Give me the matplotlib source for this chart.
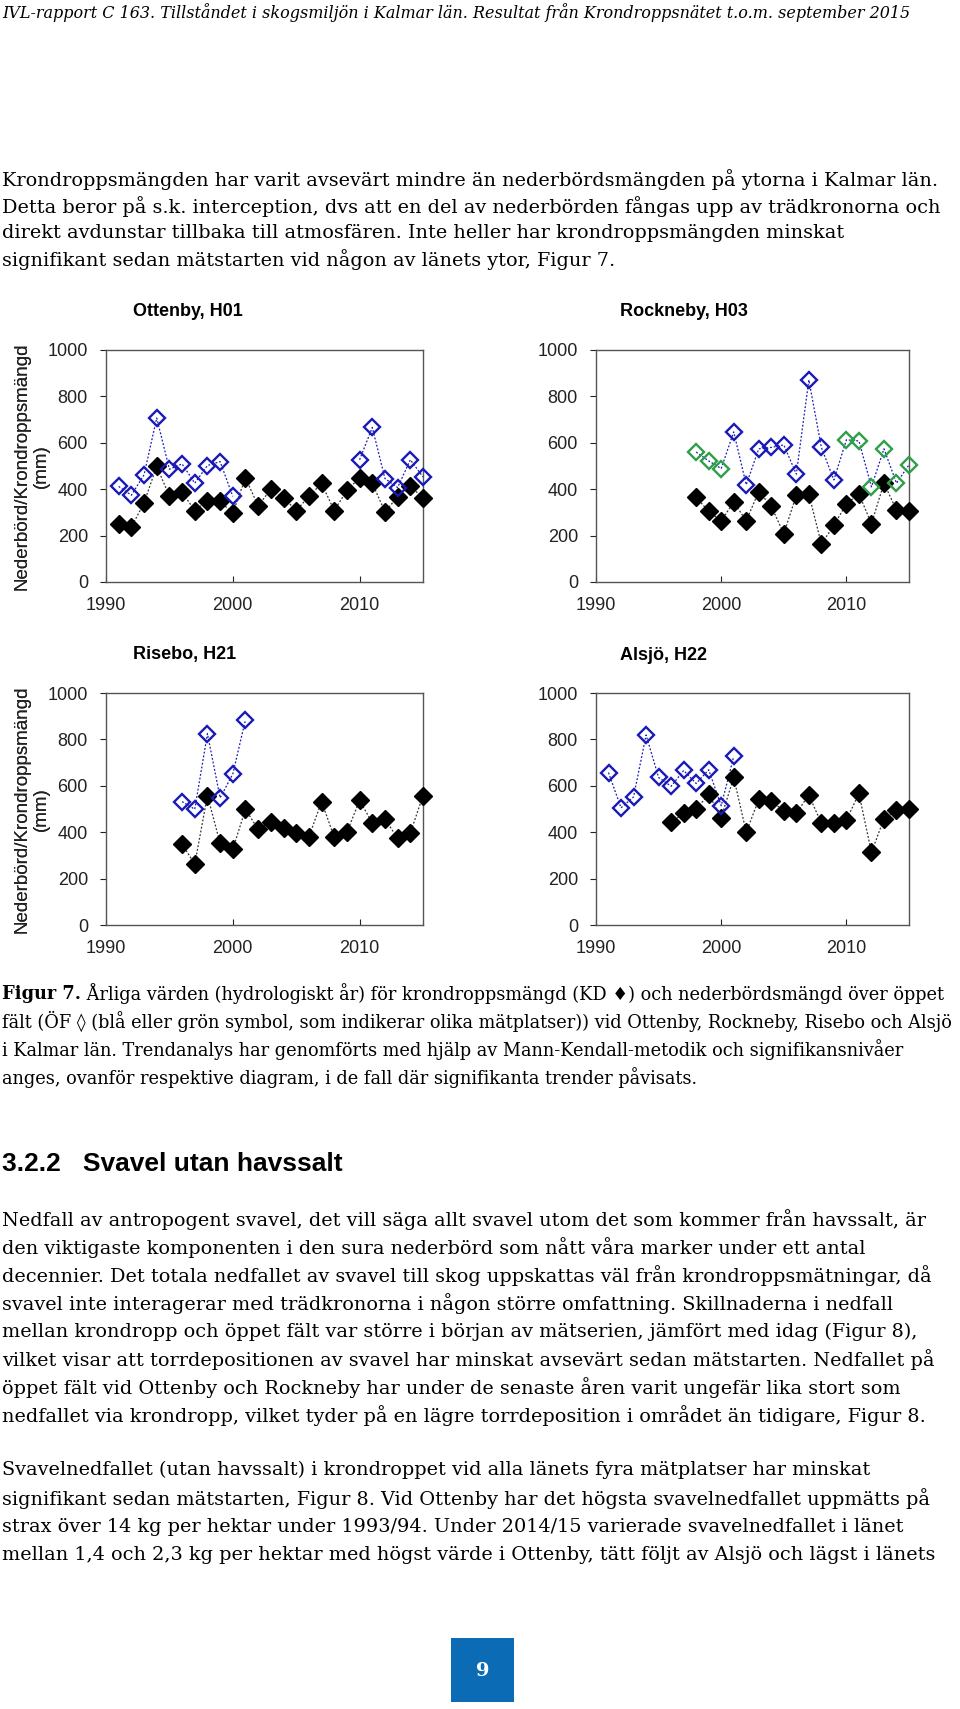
import numpy as np
import matplotlib
matplotlib.use("Agg")
import matplotlib.pyplot as plt
import matplotlib.patches as mpatches

W, H = 960, 1709
nan = np.nan

# Ottenby, H01
ott_years = list(range(1991, 2016))
ott_kd = [250, 237, 340, 500, 369, 387, 308, 351, 347, 297, 449, 328, 400, 364, 308,
          369, 425, 308, 395, 449, 426, 303, 367, 412, 363]
ott_of = [412, 374, 462, 707, 486, 509, 426, 502, 519, 369, nan, nan, nan, nan, nan,
          nan, nan, nan, nan, 527, 666, 446, 407, 527, 453]

# Rockneby, H03 (g = green site, b = blue site)
rock_years = list(range(1998, 2016))
rock_kd = [366, 304, 264, 344, 264, 390, 326, 208, 374, 379, 164, 244, 337, 380, 251, 426, 310, 304]
rock_of = [560, 522, 489, 647, 419, 574, 580, 591, 465, 871, 580, 440, 613, 608, 410, 574, 426, 505]
rock_site = ['g', 'g', 'g', 'b', 'b', 'b', 'b', 'b', 'b', 'b', 'b', 'b', 'g', 'g', 'g', 'g', 'g', 'g']

# Risebo, H21
ris_years = list(range(1996, 2016))
ris_kd = [349, 262, 558, 352, 327, 499, 412, 445, 416, 397, 379, 532, 379, 400, 537, 440, 456, 374, 397, 557]
ris_of = [532, 499, 825, 548, 651, 885] + [nan] * 14

# Alsjö, H22
als_years = list(range(1991, 2016))
als_kd = [nan] * 5 + [442, 481, 498, 564, 463, 636, 400, 541, 535, 491, 482, 561, 438, 440,
                      452, 567, 313, 458, 496, 499]
als_of = [657, 505, 552, 819, 636, 598, 666, 610, 669, 514, 727] + [nan] * 14

xticks = [1990, 2000, 2010]
yticks = [0, 200, 400, 600, 800, 1000]

BLUE = '#1a1ab8'
GREEN = '#2e9e4a'
SERIF = ['DejaVu Serif', 'DejaVu Sans']
SANS = ['Liberation Sans', 'DejaVu Sans']

fig = plt.figure(figsize=(W / 100, H / 100), dpi=100)


def txt(x, y, s, **kw):
    return fig.text(x / W, 1 - y / H, s, **kw)


def panel(box, title, title_xy, years, kd, of, site=None):
    l, t, r, b = box
    ax = fig.add_axes([l / W, 1 - b / H, (r - l) / W, (b - t) / H])
    yrs = np.array(years)
    kd = np.array(kd, float)
    of = np.array(of, float)
    if site is None:
        site = ['b'] * len(yrs)
    site = np.array(site)
    dots = (0, (1.5, 1.5))
    ax.plot(yrs, of, ls=dots, lw=0.9, color=BLUE, zorder=2, clip_on=False)
    ax.plot(yrs, kd, ls=dots, lw=0.9, color='#333333', marker='D', ms=8.8,
            mfc='black', mec='black', zorder=3, clip_on=False)
    for code, col in (('b', BLUE), ('g', GREEN)):
        m = site == code
        ax.plot(yrs[m], of[m], ls='none', marker='D', ms=7.8, mfc='none',
                mec=col, mew=1.7, zorder=4, clip_on=False)
    ax.set_xlim(1990, 2015)
    ax.set_ylim(0, 1000)
    ax.set_xticks(xticks)
    ax.set_yticks(yticks)
    ax.tick_params(axis='x', direction='in', length=4, pad=10.5, labelsize=13, colors='#222222')
    ax.tick_params(axis='y', direction='out', length=4.5, pad=8.5, labelsize=13, colors='#222222')
    for lab in ax.get_xticklabels() + ax.get_yticklabels():
        lab.set_family(SANS)
    for sp in ax.spines.values():
        sp.set_color('#555555')
        sp.set_linewidth(1.0)
    ax.set_ylabel('Nederbörd/Krondroppsmängd\n(mm)', fontsize=13.5, family=SANS,
                  va='center', linespacing=1.2, color='#222222')
    ax.yaxis.set_label_coords(-(l - 32) / (r - l), 0.5)
    txt(title_xy[0], title_xy[1], title, fontsize=13, fontweight='bold', family=SANS,
        va='center', ha='left')
    return ax


panel((106, 350, 423, 582), 'Ottenby, H01', (133, 312), ott_years, ott_kd, ott_of)
panel((596, 350, 909, 582), 'Rockneby, H03', (620, 312), rock_years, rock_kd, rock_of, rock_site)
panel((106, 693, 423, 925), 'Risebo, H21', (133, 655), ris_years, ris_kd, ris_of)
panel((596, 693, 909, 925), 'Alsjö, H22', (620, 655), als_years, als_kd, als_of)

# page header
txt(2, 13, 'IVL-rapport C 163. Tillståndet i skogsmiljön i Kalmar län. Resultat från '
    'Krondroppsnätet t.o.m. september 2015', fontsize=11.5, style='italic', family=SERIF,
    va='center', ha='left')

body_size = 13.9
p1 = [
    'Krondroppsmängden har varit avsevärt mindre än nederbördsmängden på ytorna i Kalmar län.',
    'Detta beror på s.k. interception, dvs att en del av nederbörden fångas upp av trädkronorna och',
    'direkt avdunstar tillbaka till atmosfären. Inte heller har krondroppsmängden minskat',
    'signifikant sedan mätstarten vid någon av länets ytor, Figur 7.',
]
for i, s in enumerate(p1):
    txt(2, 180 + i * 26.5, s, fontsize=body_size, family=SERIF, va='center', ha='left')

cap_size = 12.8
cap = [
    ' Årliga värden (hydrologiskt år) för krondroppsmängd (KD \u2666) och nederbördsmängd över öppet',
    'fält (ÖF \u25ca (blå eller grön symbol, som indikerar olika mätplatser)) vid Ottenby, Rockneby, Risebo och Alsjö',
    'i Kalmar län. Trendanalys har genomförts med hjälp av Mann-Kendall-metodik och signifikansnivåer',
    'anges, ovanför respektive diagram, i de fall där signifikanta trender påvisats.',
]
fig_lab = txt(2, 994, 'Figur 7.', fontsize=cap_size, fontweight='bold', family=SERIF,
              va='center', ha='left')
fig.add_artist(matplotlib.text.Annotation(cap[0], xy=(1, 0.5), xycoords=fig_lab,
                                          fontsize=cap_size, family=SERIF, va='center',
                                          ha='left', annotation_clip=False))
for i, s in enumerate(cap[1:], start=1):
    txt(2, 994 + i * 27.7, s, fontsize=cap_size, family=SERIF, va='center', ha='left')

txt(2, 1164, '3.2.2   Svavel utan havssalt', fontsize=19, fontweight='bold', family=SANS,
    va='center', ha='left')

p2 = [
    'Nedfall av antropogent svavel, det vill säga allt svavel utom det som kommer från havssalt, är',
    'den viktigaste komponenten i den sura nederbörd som nått våra marker under ett antal',
    'decennier. Det totala nedfallet av svavel till skog uppskattas väl från krondroppsmätningar, då',
    'svavel inte interagerar med trädkronorna i någon större omfattning. Skillnaderna i nedfall',
    'mellan krondropp och öppet fält var större i början av mätserien, jämfört med idag (Figur 8),',
    'vilket visar att torrdepositionen av svavel har minskat avsevärt sedan mätstarten. Nedfallet på',
    'öppet fält vid Ottenby och Rockneby har under de senaste åren varit ungefär lika stort som',
    'nedfallet via krondropp, vilket tyder på en lägre torrdeposition i området än tidigare, Figur 8.',
]
for i, s in enumerate(p2):
    txt(2, 1220 + i * 27.9, s, fontsize=body_size, family=SERIF, va='center', ha='left')

p3 = [
    'Svavelnedfallet (utan havssalt) i krondroppet vid alla länets fyra mätplatser har minskat',
    'signifikant sedan mätstarten, Figur 8. Vid Ottenby har det högsta svavelnedfallet uppmätts på',
    'strax över 14 kg per hektar under 1993/94. Under 2014/15 varierade svavelnedfallet i länet',
    'mellan 1,4 och 2,3 kg per hektar med högst värde i Ottenby, tätt följt av Alsjö och lägst i länets',
]
for i, s in enumerate(p3):
    txt(2, 1470 + i * 28.5, s, fontsize=body_size, family=SERIF, va='center', ha='left')

# page number box
fig.patches.append(mpatches.Rectangle((451 / W, 1 - 1702 / H), 63 / W, 64 / H,
                                      transform=fig.transFigure, facecolor='#0b6cb5',
                                      edgecolor='none', figure=fig))
txt(482.5, 1671, '9', fontsize=14, fontweight='bold', family=SERIF, color='white',
    va='center', ha='center')

fig.savefig('out.png', dpi=100, facecolor='white')
